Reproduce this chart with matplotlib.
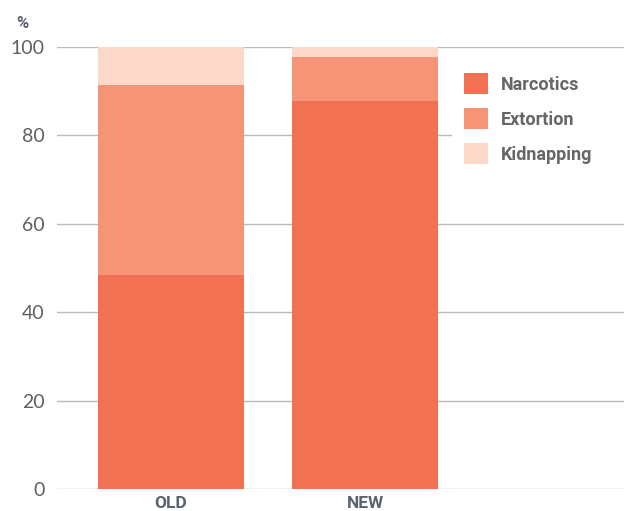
import matplotlib
matplotlib.use("Agg")
import matplotlib.pyplot as plt
from matplotlib.patches import Patch, Rectangle

categories = ["OLD", "NEW"]
series_names = ["Narcotics", "Extortion", "Kidnapping"]
narcotics = [48.5, 87.7]
extortion = [43.0, 10.0]
kidnapping = [8.5, 2.3]
colors = ["#F37153", "#F59477", "#FBD8C7"]
yticks = [0, 20, 40, 60, 80, 100]

fig = plt.figure(figsize=(6.24, 5.11), dpi=100)
ax = fig.add_axes([57/624, 1 - 489/511, 1 - 57/624, (489 - 47)/511])

x = list(range(len(categories)))
bottom = [0.0] * len(categories)
for vals, c in zip([narcotics, extortion, kidnapping], colors):
    ax.bar(x, vals, width=0.753, bottom=bottom, color=c, zorder=2)
    bottom = [b + v for b, v in zip(bottom, vals)]

ax.set_ylim(0, 100)
ax.set_xlim(-0.588, 2.335)
ax.set_yticks(yticks)
ax.yaxis.grid(True, color="#bbbbbb", linewidth=1, zorder=0)
ax.set_axisbelow(True)
for s in ax.spines.values():
    s.set_visible(False)
ax.tick_params(axis="y", length=0, pad=9, labelsize=14, labelcolor="#5f5f5f")
ax.tick_params(axis="x", length=0, pad=5)
for lbl in ax.get_yticklabels():
    lbl.set_fontfamily("Lato")
ax.set_xticks(x)
ax.set_xticklabels(categories, fontfamily="Roboto", fontweight="bold",
                   fontsize=12.5, color="#5a6270")

fig.text(22/624, 1 - 24/511, "%", fontfamily="Roboto", fontweight="bold",
         fontsize=12, color="#5a6270", ha="center", va="center")

# white backing behind the legend, hiding the gridline to the right edge
ax.add_patch(Rectangle((452/624, 1 - 180/511), 1 - 452/624, (180 - 60)/511,
                       transform=fig.transFigure, facecolor="white",
                       edgecolor="none", zorder=1.5, clip_on=False))

handles = [Patch(facecolor=c, edgecolor="none") for c in colors]
leg = ax.legend(handles, series_names, loc="upper left",
                bbox_to_anchor=(455/624, 1 - 64/511), bbox_transform=fig.transFigure,
                frameon=False, borderpad=0.5, borderaxespad=0,
                handlelength=1.3, handleheight=1.45, labelspacing=0.75,
                handletextpad=0.72,
                prop={"family": "Roboto", "weight": "bold", "size": 13})
for t in leg.get_texts():
    t.set_color("#666666")
leg.set_zorder(5)

fig.savefig("out.png", dpi=100)
